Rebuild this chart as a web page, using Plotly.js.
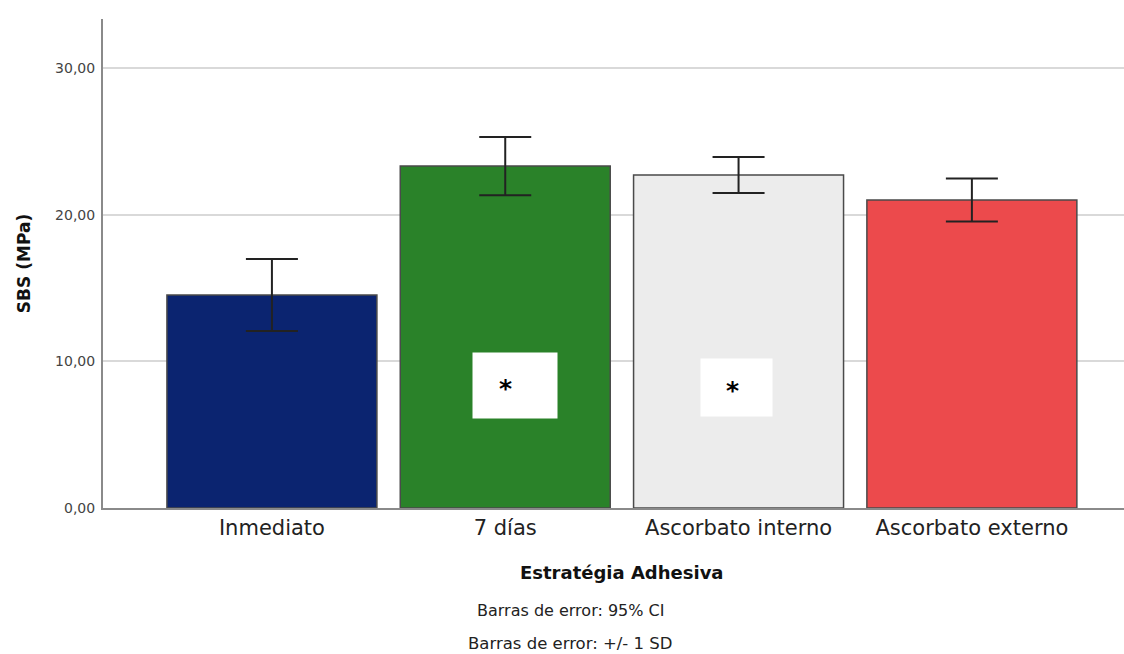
<!DOCTYPE html>
<html>
<head>
<meta charset="utf-8">
<script src="https://cdn.plot.ly/plotly-3.0.1.min.js"></script>
<style>html,body{margin:0;padding:0;background:#fff;}#chart{width:1124px;height:654px;}</style>
</head>
<body>
<div id="chart"></div>
<script>
const categories = ["Inmediato", "7 días", "Ascorbato interno", "Ascorbato externo"];
const means = [14.52, 23.31, 22.70, 21.00];
const errors = [2.45, 1.98, 1.23, 1.47];
const barColors = ["#0b2470", "#2a8229", "#ececec", "#ec4a4c"];
const yTicks = [0, 10, 20, 30];
// white label boxes and asterisks (category index + offset, value)
const boxX = [1.042, 1.991];
const boxY = [8.35, 8.22];
const boxW = [82, 69];
const boxH = [63, 55];
const starX = [1.0, 1.972];
const starY = [8.15, 7.98];

const trace = {
  type: "bar",
  x: categories,
  y: means,
  width: 0.9,
  marker: {color: barColors, line: {color: "#4a4a4a", width: 1.5}},
  error_y: {type: "data", array: errors, visible: true, color: "#222", thickness: 2, width: 26},
  hoverinfo: "none"
};

const annotations = [
  {xref: "paper", yref: "paper", x: 0.508, y: -0.131, yanchor: "middle", text: "<b>Estratégia Adhesiva</b>", showarrow: false,
   font: {family: "DejaVu Sans", size: 18, color: "#111"}},
  {xref: "paper", yref: "paper", x: 0.458, y: -0.2106, yanchor: "middle", text: "Barras de error: 95% CI", showarrow: false,
   font: {family: "DejaVu Sans", size: 16, color: "#222"}},
  {xref: "paper", yref: "paper", x: 0.458, y: -0.278, yanchor: "middle", text: "Barras de error: +/- 1 SD", showarrow: false,
   font: {family: "DejaVu Sans", size: 16.5, color: "#222"}}
];
boxX.forEach((bx, i) => {
  annotations.push({
    x: bx, y: boxY[i], xref: "x", yref: "y", text: "&nbsp;", showarrow: false,
    bgcolor: "#ffffff", width: boxW[i], height: boxH[i], font: {size: 10}
  });
});
starX.forEach((sx, i) => {
  annotations.push({
    x: sx, y: starY[i], xref: "x", yref: "y", text: "<b>*</b>", showarrow: false,
    font: {family: "DejaVu Sans", size: 25, color: "#000"}
  });
});

const layout = {
  width: 1124, height: 654,
  margin: {l: 103, r: 0, t: 19, b: 146},
  paper_bgcolor: "#fff", plot_bgcolor: "#fff",
  separators: ",.",
  showlegend: false,
  bargap: 0.1,
  xaxis: {
    range: [-0.724, 3.652],
    showline: true, linecolor: "#8a8a8a", linewidth: 2,
    ticks: "", showgrid: false,
    ticklabelstandoff: 0,
    tickfont: {family: "DejaVu Sans", size: 21, color: "#222"},
    fixedrange: true
  },
  yaxis: {
    range: [0, 33.34],
    tickvals: yTicks, tickformat: ".2f",
    showline: true, linecolor: "#8a8a8a", linewidth: 2,
    ticks: "", ticklen: 0,
    ticklabelstandoff: 3,
    showgrid: true, gridcolor: "#d9d9d9", gridwidth: 2,
    zeroline: false,
    tickfont: {family: "DejaVu Sans", size: 14, color: "#444"},
    title: {text: "<b>SBS (MPa)</b>", standoff: 20,
            font: {family: "DejaVu Sans", size: 17, color: "#111"}},
    fixedrange: true
  },
  annotations: annotations
};

Plotly.newPlot("chart", [trace], layout, {displayModeBar: false, staticPlot: true});
</script>
</body>
</html>
